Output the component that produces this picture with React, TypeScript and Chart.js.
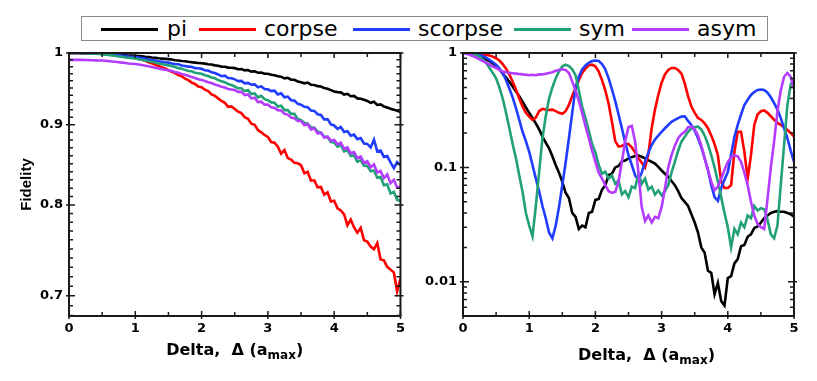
import React, { useEffect, useRef } from "react";
import { Chart, registerables } from "chart.js";

Chart.register(...registerables);

// ---------- data ----------
const DELTA = [0,0.05,0.1,0.15,0.2,0.25,0.3,0.35,0.4,0.45,0.5,0.55,0.6,0.65,0.7,0.75,0.8,0.85,0.9,0.95,1,1.05,1.1,1.15,1.2,1.25,1.3,1.35,1.4,1.45,1.5,1.55,1.6,1.65,1.7,1.75,1.8,1.85,1.9,1.95,2,2.05,2.1,2.15,2.2,2.25,2.3,2.35,2.4,2.45,2.5,2.55,2.6,2.65,2.7,2.75,2.8,2.85,2.9,2.95,3,3.05,3.1,3.15,3.2,3.25,3.3,3.35,3.4,3.45,3.5,3.55,3.6,3.65,3.7,3.75,3.8,3.85,3.9,3.95,4,4.05,4.1,4.15,4.2,4.25,4.3,4.35,4.4,4.45,4.5,4.55,4.6,4.65,4.7,4.75,4.8,4.85,4.9,4.95,5];

const SERIES_NAMES = ["pi", "corpse", "scorpse", "sym", "asym"];
const SERIES_COLORS = ["#000000", "#ff0000", "#1f3cff", "#22a078", "#b43cff"];

// left panel (fidelity near 1, log axis)
const LEFT_PI = [
  1.0,1.0,1.0,1.0,0.9998,0.9997,0.9995,0.9994,0.9992,0.9991,
  0.999,0.9987,0.9984,0.998,0.9977,0.9974,0.997,0.9967,0.9963,0.9961,
  0.996,0.9955,0.995,0.9944,0.994,0.9934,0.993,0.9923,0.9918,0.9914,
  0.991,0.9905,0.9895,0.989,0.9884,0.988,0.9872,0.9866,0.986,0.9855,
  0.985,0.9845,0.9835,0.9832,0.982,0.9815,0.9802,0.98,0.9788,0.9785,
  0.978,0.9765,0.9768,0.9748,0.9753,0.973,0.9735,0.9715,0.9718,0.970,
  0.970,0.9685,0.9678,0.9663,0.9658,0.9635,0.9642,0.9615,0.9615,0.959,
  0.958,0.9565,0.9575,0.9545,0.9542,0.9525,0.952,0.950,0.9488,0.947,
  0.945,0.9442,0.9438,0.9408,0.9418,0.9385,0.939,0.9355,0.935,0.9335,
  0.932,0.9295,0.9308,0.9265,0.9272,0.9245,0.9232,0.9215,0.9202,0.9185,
  0.917
];
const LEFT_CORPSE = [
  1.0,1.0,1.0,1.0,0.9998,0.9996,0.9994,0.9993,0.9992,0.999,
  0.999,0.9985,0.998,0.9975,0.997,0.9963,0.9957,0.995,0.9942,0.9935,
  0.993,0.9915,0.99,0.9885,0.9865,0.985,0.983,0.9812,0.9795,0.9775,
  0.975,0.9728,0.971,0.968,0.9665,0.963,0.961,0.9575,0.9555,0.952,
  0.951,0.9475,0.9455,0.941,0.939,0.9355,0.932,0.9295,0.924,0.9245,
  0.921,0.9175,0.9155,0.910,0.908,0.9015,0.900,0.893,0.890,0.8865,
  0.884,0.8775,0.8765,0.8715,0.8625,0.867,0.857,0.855,0.851,0.8505,
  0.848,0.838,0.84,0.829,0.8295,0.821,0.8215,0.812,0.815,0.804,
  0.805,0.796,0.7935,0.789,0.7765,0.783,0.774,0.768,0.7735,0.7595,
  0.758,0.7525,0.7495,0.7565,0.7385,0.7375,0.7305,0.7275,0.7245,0.7045,
  0.718
];
const LEFT_SCORPSE = [
  1.0,1.0,1.0,1.0,0.9998,0.9997,0.9995,0.9994,0.9992,0.9991,
  0.999,0.9985,0.998,0.9975,0.997,0.9965,0.996,0.9955,0.9948,0.9942,
  0.994,0.9932,0.9925,0.9915,0.9905,0.9898,0.989,0.988,0.9873,0.9865,
  0.986,0.9848,0.984,0.9835,0.9818,0.981,0.9802,0.9798,0.978,0.9778,
  0.977,0.975,0.9745,0.972,0.971,0.969,0.9665,0.9672,0.964,0.9635,
  0.962,0.9595,0.9598,0.9565,0.957,0.9545,0.955,0.951,0.9522,0.9485,
  0.948,0.9455,0.9462,0.941,0.9425,0.937,0.938,0.933,0.9325,0.928,
  0.927,0.924,0.9235,0.919,0.9185,0.914,0.913,0.907,0.9075,0.9005,
  0.899,0.8945,0.897,0.8905,0.8915,0.8855,0.887,0.881,0.8825,0.8755,
  0.875,0.8705,0.8805,0.8655,0.8665,0.8585,0.8595,0.8515,0.8445,0.852,
  0.848
];
const LEFT_SYM = [
  1.0,1.0,1.0,1.0,0.9998,0.9996,0.9994,0.9992,0.999,0.9985,
  0.998,0.9975,0.997,0.9965,0.996,0.995,0.9945,0.9935,0.993,0.9925,
  0.992,0.991,0.99,0.989,0.988,0.9872,0.986,0.9848,0.984,0.983,
  0.982,0.981,0.9795,0.978,0.9772,0.9755,0.974,0.9735,0.9715,0.9708,
  0.970,0.968,0.9668,0.9645,0.9635,0.961,0.9592,0.958,0.9555,0.954,
  0.952,0.9495,0.9495,0.9455,0.947,0.9415,0.9425,0.937,0.939,0.9345,
  0.933,0.930,0.9295,0.9245,0.9255,0.9195,0.9195,0.9145,0.9145,0.9075,
  0.906,0.9025,0.9015,0.8965,0.896,0.891,0.8895,0.8845,0.8835,0.8775,
  0.877,0.8715,0.8735,0.8655,0.867,0.8595,0.8605,0.8525,0.8545,0.8475,
  0.847,0.8405,0.8415,0.8325,0.8335,0.8235,0.8245,0.8135,0.8155,0.806,
  0.805
];
const LEFT_ASYM = [
  0.990,0.990,0.990,0.990,0.9899,0.9898,0.9896,0.9894,0.9892,0.9891,
  0.989,0.9886,0.9882,0.9877,0.9872,0.9866,0.986,0.9854,0.9848,0.9844,
  0.984,0.9832,0.9825,0.9815,0.9806,0.9795,0.9785,0.9776,0.9765,0.9757,
  0.975,0.9738,0.9725,0.9715,0.9698,0.9685,0.967,0.9652,0.9638,0.9622,
  0.961,0.9598,0.958,0.9568,0.9548,0.9535,0.9515,0.9505,0.9485,0.9478,
  0.947,0.9445,0.9445,0.940,0.941,0.9355,0.9365,0.9305,0.931,0.927,
  0.927,0.9235,0.9225,0.9195,0.919,0.9145,0.9135,0.9095,0.9085,0.905,
  0.905,0.8995,0.901,0.8935,0.8955,0.8885,0.8895,0.883,0.8845,0.879,
  0.880,0.8745,0.8765,0.869,0.8705,0.863,0.8645,0.857,0.859,0.851,
  0.853,0.8455,0.849,0.839,0.841,0.832,0.8365,0.826,0.830,0.8205,
  0.822
];

// right panel (log axis 0.005..1)
const RIGHT_PI = [
  1.0,1.0,0.998,0.99,0.98,0.955,0.92,0.88,0.85,0.81,
  0.77,0.72,0.66,0.61,0.56,0.51,0.46,0.42,0.375,0.335,
  0.30,0.27,0.243,0.215,0.186,0.165,0.147,0.125,0.105,0.09,
  0.075,0.06,0.054,0.04,0.037,0.029,0.031,0.03,0.04,0.041,
  0.052,0.053,0.064,0.07,0.086,0.088,0.1,0.103,0.113,0.115,
  0.12,0.123,0.126,0.127,0.124,0.12,0.116,0.112,0.108,0.101,
  0.094,0.088,0.083,0.076,0.07,0.062,0.054,0.05,0.046,0.039,
  0.033,0.027,0.02,0.018,0.0125,0.012,0.0078,0.0098,0.0068,0.0062,
  0.0108,0.0112,0.0145,0.0158,0.0205,0.021,0.0248,0.026,0.0295,0.0305,
  0.033,0.036,0.038,0.04,0.041,0.0415,0.041,0.041,0.040,0.039,
  0.037
];
const RIGHT_CORPSE = [
  1.0,1.0,1.0,0.998,0.995,0.99,0.98,0.965,0.95,0.93,
  0.9,0.86,0.8,0.73,0.65,0.56,0.48,0.4,0.34,0.3,
  0.278,0.26,0.272,0.31,0.325,0.32,0.318,0.32,0.31,0.3,
  0.294,0.31,0.352,0.42,0.49,0.58,0.67,0.73,0.78,0.79,
  0.766,0.69,0.58,0.47,0.36,0.25,0.17,0.152,0.154,0.16,
  0.16,0.15,0.135,0.12,0.11,0.10,0.13,0.22,0.32,0.43,
  0.55,0.65,0.71,0.74,0.74,0.71,0.66,0.54,0.42,0.34,
  0.3,0.27,0.26,0.243,0.22,0.19,0.16,0.128,0.075,0.066,
  0.066,0.07,0.137,0.205,0.205,0.137,0.08,0.128,0.235,0.29,
  0.31,0.315,0.30,0.28,0.26,0.245,0.235,0.225,0.212,0.2,
  0.186
];
const RIGHT_SCORPSE = [
  1.0,1.0,0.998,0.99,0.98,0.965,0.94,0.91,0.87,0.83,
  0.79,0.73,0.67,0.58,0.49,0.41,0.33,0.26,0.205,0.17,
  0.137,0.105,0.08,0.062,0.046,0.036,0.027,0.024,0.031,0.045,
  0.07,0.11,0.18,0.3,0.5,0.62,0.72,0.78,0.82,0.85,
  0.86,0.85,0.8,0.72,0.6,0.48,0.38,0.29,0.22,0.165,
  0.128,0.105,0.085,0.077,0.09,0.112,0.135,0.157,0.175,0.19,
  0.205,0.22,0.235,0.25,0.26,0.27,0.278,0.28,0.255,0.235,
  0.21,0.18,0.15,0.12,0.095,0.07,0.055,0.051,0.066,0.078,
  0.091,0.13,0.185,0.235,0.29,0.35,0.39,0.43,0.455,0.475,
  0.48,0.475,0.45,0.41,0.365,0.32,0.27,0.22,0.18,0.14,
  0.112
];
const RIGHT_SYM = [
  1.0,1.0,0.995,0.98,0.96,0.93,0.88,0.82,0.74,0.67,
  0.6,0.5,0.4,0.3,0.22,0.16,0.12,0.085,0.061,0.04,
  0.031,0.025,0.046,0.091,0.18,0.28,0.4,0.5,0.6,0.69,
  0.765,0.79,0.77,0.72,0.64,0.47,0.34,0.27,0.21,0.16,
  0.135,0.105,0.088,0.092,0.08,0.085,0.072,0.077,0.058,0.062,
  0.055,0.068,0.066,0.088,0.072,0.08,0.064,0.068,0.058,0.063,
  0.057,0.062,0.07,0.09,0.112,0.14,0.168,0.185,0.205,0.22,
  0.225,0.227,0.215,0.19,0.16,0.128,0.1,0.075,0.055,0.04,
  0.03,0.02,0.029,0.026,0.033,0.03,0.038,0.036,0.046,0.042,
  0.044,0.043,0.035,0.026,0.024,0.031,0.07,0.157,0.35,0.53,
  0.6
];
const RIGHT_ASYM = [
  1.0,0.985,0.965,0.94,0.91,0.88,0.85,0.82,0.79,0.76,
  0.74,0.71,0.69,0.68,0.67,0.665,0.66,0.655,0.65,0.645,
  0.64,0.645,0.64,0.65,0.65,0.66,0.67,0.68,0.7,0.71,
  0.72,0.71,0.67,0.565,0.47,0.38,0.3,0.23,0.18,0.14,
  0.112,0.09,0.08,0.07,0.062,0.06,0.061,0.075,0.112,0.17,
  0.225,0.23,0.168,0.09,0.045,0.034,0.038,0.033,0.037,0.036,
  0.045,0.065,0.1,0.128,0.155,0.18,0.195,0.205,0.225,0.228,
  0.215,0.19,0.155,0.12,0.095,0.075,0.063,0.068,0.08,0.095,
  0.112,0.122,0.128,0.125,0.112,0.09,0.07,0.05,0.038,0.032,
  0.03,0.029,0.053,0.1,0.17,0.31,0.47,0.62,0.67,0.62,
  0.49
];

const X_TICKS = [0, 1, 2, 3, 4, 5];
const LEFT_Y_TICKS = [0.7, 0.8, 0.9, 1];
const LEFT_Y_LABELS = ["0.7", "0.8", "0.9", "1"];
const RIGHT_Y_TICKS = [0.01, 0.1, 1];
const RIGHT_Y_LABELS = ["0.01", "0.1", "1"];

// ---------- plugins ----------
const frameTicksPlugin = {
  id: "frameTicks",
  afterDatasetsDraw(chart: any, _args: any, opts: any) {
    const { ctx, chartArea: a, scales } = chart;
    const xs = scales.x;
    const ys = scales.y;
    ctx.save();
    ctx.strokeStyle = "#1a1a1a";
    ctx.lineWidth = 1.5;
    ctx.beginPath();
    for (let k = 0; k <= 10; k++) {
      const px = xs.getPixelForValue(k * 0.5);
      const major = k % 2 === 0;
      ctx.moveTo(px, a.bottom + (major ? 3 : 0));
      ctx.lineTo(px, a.bottom - (major ? 5 : 4));
      ctx.moveTo(px, a.top);
      ctx.lineTo(px, a.top + (major ? 5 : 4));
    }
    for (const v of opts.minorY) {
      const py = ys.getPixelForValue(v);
      if (py < a.top - 0.5 || py > a.bottom + 0.5) continue;
      ctx.moveTo(a.left, py);
      ctx.lineTo(a.left + 4, py);
      ctx.moveTo(a.right, py);
      ctx.lineTo(a.right - 4, py);
    }
    for (const v of opts.majorY) {
      const py = ys.getPixelForValue(v);
      ctx.moveTo(a.left - 3, py);
      ctx.lineTo(a.left + 6, py);
      ctx.moveTo(a.right + 3, py);
      ctx.lineTo(a.right - 6, py);
    }
    ctx.stroke();
    ctx.lineWidth = 2;
    ctx.strokeRect(a.left, a.top, a.right - a.left, a.bottom - a.top);
    ctx.restore();
  },
};

const xTitlePlugin = {
  id: "xTitle",
  afterDraw(chart: any, _args: any, opts: any) {
    const { ctx, chartArea: a } = chart;
    const main = "Delta,  \u0394 (a";
    const sub = "max";
    const tail = ")";
    const mainFont = 'bold 16px "DejaVu Sans"';
    const subFont = 'bold 12px "DejaVu Sans"';
    ctx.save();
    ctx.fillStyle = "#000";
    ctx.textBaseline = "alphabetic";
    ctx.textAlign = "left";
    ctx.font = mainFont;
    const w1 = ctx.measureText(main).width;
    const w3 = ctx.measureText(tail).width;
    ctx.font = subFont;
    const w2 = ctx.measureText(sub).width;
    const cx = (a.left + a.right) / 2 + opts.dx;
    let x = cx - (w1 + w2 + w3) / 2;
    ctx.font = mainFont;
    ctx.fillText(main, x, opts.baseline);
    x += w1;
    ctx.font = subFont;
    ctx.fillText(sub, x, opts.baseline + 4);
    x += w2;
    ctx.font = mainFont;
    ctx.fillText(tail, x, opts.baseline);
    ctx.restore();
  },
};

const TICK_FONT = { family: '"DejaVu Sans"', size: 13, weight: "bold" as const };

function makeDatasets(series: number[][]) {
  return series.map((ys, i) => ({
    label: SERIES_NAMES[i],
    data: DELTA.map((d, j) => ({ x: d, y: ys[j] })),
    borderColor: SERIES_COLORS[i],
    backgroundColor: SERIES_COLORS[i],
    borderWidth: 2.6,
    pointRadius: 0,
    tension: 0,
    fill: false,
    order: 5 - i,
  }));
}

function makeConfig(opts: {
  series: number[][];
  yMin: number;
  yTicks: number[];
  yLabels: string[];
  minorY: number[];
  yWidth: number;
  padRight: number;
  titleDx: number;
  titleBaseline: number;
  yTitle: boolean;
}): any {
  return {
    type: "line",
    data: { datasets: makeDatasets(opts.series) },
    plugins: [frameTicksPlugin, xTitlePlugin],
    options: {
      responsive: false,
      animation: false,
      events: [],
      layout: { padding: { left: 0, right: opts.padRight, top: 53, bottom: 0 } },
      plugins: {
        legend: { display: false },
        tooltip: { enabled: false },
        frameTicks: { minorY: opts.minorY, majorY: opts.yTicks },
        xTitle: { dx: opts.titleDx, baseline: opts.titleBaseline },
      },
      scales: {
        x: {
          type: "linear",
          min: 0,
          max: 5,
          afterBuildTicks: (s: any) => {
            s.ticks = X_TICKS.map((v) => ({ value: v }));
          },
          afterFit: (s: any) => {
            s.height = 65;
          },
          grid: { display: false, drawTicks: false },
          border: { display: false },
          ticks: {
            font: TICK_FONT,
            color: "#000",
            padding: 5,
            autoSkip: false,
            maxRotation: 0,
            callback: (v: any) => String(v),
          },
        },
        y: {
          type: "logarithmic",
          min: opts.yMin,
          max: 1,
          afterBuildTicks: (s: any) => {
            s.ticks = opts.yTicks.map((v) => ({ value: v }));
          },
          afterFit: (s: any) => {
            s.width = opts.yWidth;
          },
          grid: { display: false, drawTicks: false },
          border: { display: false },
          ticks: {
            font: TICK_FONT,
            color: "#000",
            padding: 6,
            autoSkip: false,
            callback: (v: any) => {
              const idx = opts.yTicks.findIndex((t) => Math.abs(t - v) < 1e-9);
              return idx >= 0 ? opts.yLabels[idx] : "";
            },
          },
          title: {
            display: opts.yTitle,
            text: "Fidelity",
            color: "#000",
            font: { family: '"Liberation Sans"', size: 15, weight: "bold" },
            padding: { top: 18, bottom: 0 },
          },
        },
      },
    },
  };
}

function minorLinear(): number[] {
  const out: number[] = [];
  for (let k = 68; k <= 100; k++) out.push(k / 100);
  return out;
}
function minorLog(): number[] {
  const out: number[] = [];
  for (const dec of [0.001, 0.01, 0.1]) {
    for (let m = 1; m <= 9; m++) out.push(+(m * dec).toFixed(4));
  }
  return out;
}

export default function App() {
  const leftRef = useRef<HTMLCanvasElement>(null);
  const rightRef = useRef<HTMLCanvasElement>(null);

  useEffect(() => {
    const left = new Chart(
      leftRef.current as HTMLCanvasElement,
      makeConfig({
        series: [LEFT_PI, LEFT_CORPSE, LEFT_SCORPSE, LEFT_SYM, LEFT_ASYM],
        yMin: 0.6796,
        yTicks: LEFT_Y_TICKS,
        yLabels: LEFT_Y_LABELS,
        minorY: minorLinear(),
        yWidth: 69,
        padRight: 9,
        titleDx: 0,
        titleBaseline: 355,
        yTitle: true,
      })
    );
    const right = new Chart(
      rightRef.current as HTMLCanvasElement,
      makeConfig({
        series: [RIGHT_PI, RIGHT_CORPSE, RIGHT_SCORPSE, RIGHT_SYM, RIGHT_ASYM],
        yMin: 0.00503,
        yTicks: RIGHT_Y_TICKS,
        yLabels: RIGHT_Y_LABELS,
        minorY: minorLog(),
        yWidth: 53,
        padRight: 23,
        titleDx: 18,
        titleBaseline: 360,
        yTitle: false,
      })
    );
    return () => {
      left.destroy();
      right.destroy();
    };
  }, []);

  const legendLines = [101, 199, 353, 514, 632];
  const legendTexts = [167, 264, 418, 579, 697];

  return (
    <div
      style={{
        position: "absolute",
        left: 0,
        top: 0,
        width: 817,
        height: 381,
        background: "#fff",
        overflow: "hidden",
      }}
    >
      <canvas
        ref={leftRef}
        width={410}
        height={381}
        style={{ position: "absolute", left: 0, top: 0 }}
      />
      <canvas
        ref={rightRef}
        width={407}
        height={381}
        style={{ position: "absolute", left: 410, top: 0 }}
      />
      <div
        style={{
          position: "absolute",
          left: 81,
          top: 16,
          width: 687,
          height: 25,
          boxSizing: "border-box",
          border: "1.5px solid #8a8a8a",
          background: "#fff",
        }}
      />
      {SERIES_NAMES.map((name, i) => (
        <React.Fragment key={name}>
          <div
            style={{
              position: "absolute",
              left: legendLines[i],
              top: 28,
              width: 57,
              height: 3,
              background: SERIES_COLORS[i],
            }}
          />
          <span
            style={{
              position: "absolute",
              left: legendTexts[i],
              top: 18,
              fontFamily: '"DejaVu Sans"',
              fontSize: 22,
              lineHeight: "22px",
              whiteSpace: "nowrap",
              color: "#000",
            }}
          >
            {name}
          </span>
        </React.Fragment>
      ))}
    </div>
  );
}
